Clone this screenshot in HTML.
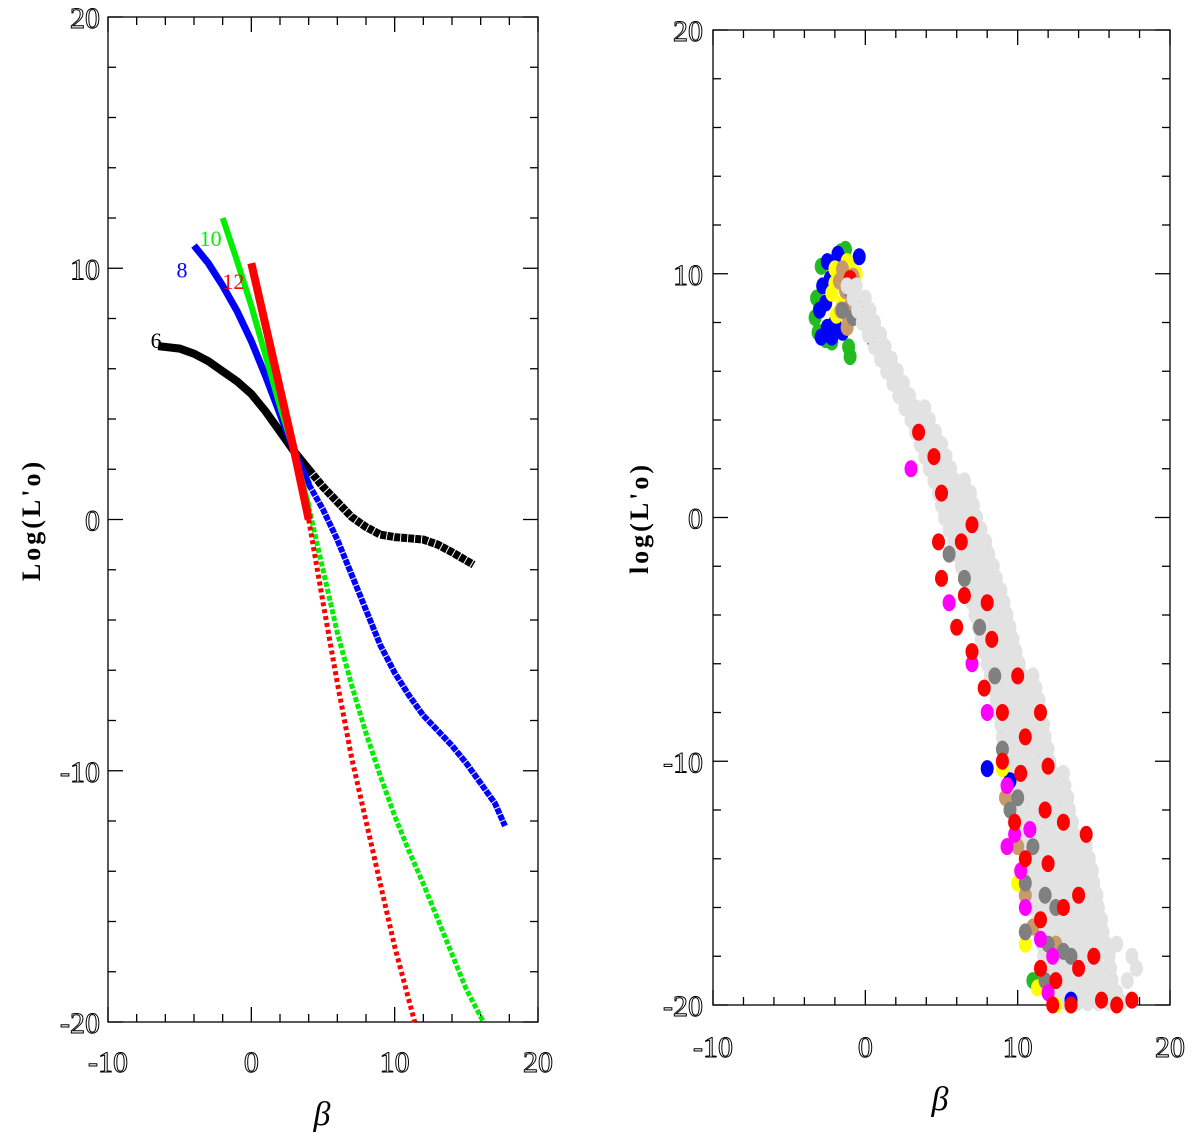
<!DOCTYPE html>
<html><head><meta charset="utf-8"><style>
html,body{margin:0;padding:0;background:#fff;}
svg{display:block;}
text{font-family:"Liberation Serif",serif;}
</style></head><body>
<svg id="fig" width="1200" height="1138" viewBox="0 0 1200 1138">
<g id="left"></g>
<g id="right"></g>
</svg>
<script>
// ---- Left panel data ----
const curve6 = [[-6.5,6.9],[-5,6.8],[-4,6.6],[-3,6.3],[-2,5.9],[-1,5.5],[0,5.0],[1,4.3],[2,3.5],[3,2.7],[4,2.0],[5,1.3],[6,0.7],[7,0.1],[8,-0.3],[9,-0.6],[10,-0.7],[11,-0.75],[12,-0.8],[13,-1.0],[14,-1.3],[15.5,-1.8]];
const curve8 = [[-4,10.9],[-3,10.2],[-2,9.3],[-1,8.3],[0,7.1],[1,5.7],[2,4.2],[3,2.7],[4,1.4],[5,0.4],[6,-0.8],[7,-2.2],[8,-3.6],[9,-5.0],[10,-6.1],[11,-7.0],[12,-7.8],[13,-8.4],[14,-9.0],[15,-9.7],[16,-10.5],[17,-11.3],[17.7,-12.2]];
const curve10 = [[-2,12],[-1,10.3],[0,8.5],[1,6.5],[2,4.5],[3,2.7],[4,0.5],[5,-2.0],[6,-4.5],[7,-6.6],[8,-8.5],[9,-10.2],[10,-11.8],[11,-13.2],[12,-14.5],[13,-15.9],[14,-17.3],[15,-18.7],[16.2,-20]];
const curve12 = [[0,10.2],[1,7.7],[2,5.2],[3,2.7],[4,0],[5,-3.3],[6,-6.5],[7,-9.5],[8,-12],[9,-14.5],[10,-17],[11.4,-20]];
const curveNames = ['6','8','10','12'];
const curveColors = ['#000','#0000ff','#00ee00','#ff0000'];
// ---- Right panel data (beta, log L'o) ----
const ptsGreen = [[-3.2,9],[-2.9,10.3],[-3.1,7.6],[-2.2,7.2],[-1.1,7],[-1,6.6],[-1.3,11],[-3.3,8.2],[-2.6,7.3],[-1.6,10.9],[-3,8.6],[11,-19]];
const ptsBlue = [[-2.5,10.5],[-2.8,9.5],[-3,8.5],[-2.5,7.8],[-2.2,7.4],[-2.9,7.4],[-1.5,7.6],[-1.8,10.8],[-0.4,10.7],[-2,8],[-2.3,9.8],[-2.6,8.8],[8,-10.3],[9.5,-10.8],[13.5,-19.8]];
const ptsYellow = [[-2,10.2],[-1.2,10.5],[-2.2,9.2],[-1.5,8.8],[-1,10.2],[-0.6,10],[-1.9,8.3],[-2,9.6],[9,-10.3],[10,-15],[10.5,-17.5],[12.5,-20],[11.3,-19.3]];
const ptsTan = [[-1.7,9.7],[-1.3,9.3],[-1.6,8.5],[-0.9,8.8],[-1.2,7.8],[-1.5,10.2],[-0.8,9.9],[-1.1,8.2],[9.2,-11.5],[10.5,-15.5],[11,-16.8],[12.5,-17.5],[10,-13.5]];
const ptsDarkGray = [[-1.5,8.5],[-0.8,8.2],[-1,9.3],[5.5,-1.5],[6.5,-2.5],[7.5,-4.5],[8.5,-6.5],[9,-9.5],[10,-11.5],[9.5,-12],[11,-13.5],[10.5,-15],[11.8,-15.5],[12,-17.5],[13,-17.8],[11.8,-19],[13.5,-18],[12.5,-16],[10.5,-17]];
const ptsMagenta = [[-0.8,9],[-0.4,8.7],[3,2],[5.5,-3.5],[7,-6],[8,-8],[9.3,-11],[9.8,-13],[9.3,-13.5],[10.8,-12.8],[10.5,-16],[11.5,-17.3],[12,-19.5],[12.3,-18],[10.2,-14.5]];
const ptsRed = [[-1,9.8],[0.5,7.3],[3.5,3.5],[5,1],[4.8,-1],[5,-2.5],[6.3,-1],[7,-0.3],[8,-3.5],[6,-4.5],[7,-5.5],[8.3,-5],[10,-6.5],[9,-8],[11.5,-8],[10.2,-10.5],[12,-10.2],[9.8,-12.5],[11.8,-12],[13,-12.5],[10.5,-14],[12,-14.2],[14.5,-13],[11.5,-16.5],[13,-16],[14,-15.5],[11.5,-18.5],[12.5,-19],[14,-18.5],[15,-18],[15.5,-19.8],[13.5,-20],[12.3,-20],[16.5,-20],[17.5,-19.8],[10.5,-9],[9,-10],[7.8,-7],[4.5,2.5],[6.5,-3.2]];
// light-gray band, rows of [logL, [beta values]]
const lightRows = [
 [9.5,[-1.2,-0.6]],[9,[-0.8,0]],[8.5,[-0.5,0.3]],[8,[-0.2,0.6]],[7.5,[0.2,1]],[7,[0.6,1.3]],[6.5,[1,1.7]],[6,[1.4,2.1]],[5.5,[1.8,2.5]],[5,[2.2,2.9]],
 [4.5,[2.6,3.3,3.9]],[4,[3,3.7,4.2]],[3.5,[3.3,4,4.6]],[3,[3.6,4.3,5]],[2.5,[3.9,4.6,5.3]],[2,[4.2,4.9,5.6]],[1.5,[4.5,5.2,5.9,6.5]],[1,[4.8,5.5,6.2,6.9]],
 [0.5,[5,5.7,6.4,7.1]],[0,[5.2,5.9,6.6,7.3]],[-0.5,[5.5,6.2,6.9,7.6]],[-1,[5.8,6.5,7.2,7.9]],[-1.5,[6,6.7,7.4,8.1]],[-2,[6.3,7,7.7,8.4]],[-2.5,[6.5,7.2,7.9,8.6]],
 [-3,[6.8,7.5,8.2,8.9]],[-3.5,[7,7.7,8.4,9.1]],[-4,[7.2,7.9,8.6,9.3]],[-4.5,[7.4,8.1,8.8,9.5]],[-5,[7.6,8.3,9,9.7]],[-5.5,[7.8,8.5,9.2,9.9]],[-6,[8,8.7,9.4,10.1]],
 [-6.5,[8.2,8.9,9.6,10.3,11]],[-7,[8.4,9.1,9.8,10.5,11.2]],[-7.5,[8.6,9.3,10,10.7,11.4]],[-8,[8.7,9.4,10.1,10.8,11.5]],[-8.5,[8.9,9.6,10.3,11,11.7]],[-9,[9,9.7,10.4,11.1,11.8]],
 [-9.5,[9.2,9.9,10.6,11.3,12]],[-10,[9.3,10,10.7,11.4,12.1]],[-10.5,[9.5,10.2,10.9,11.6,12.3,13]],[-11,[9.6,10.3,11,11.7,12.4,13.1]],[-11.5,[9.8,10.5,11.2,11.9,12.6,13.3]],
 [-12,[9.9,10.6,11.3,12,12.7,13.4]],[-12.5,[10.1,10.8,11.5,12.2,12.9,13.6]],[-13,[10.2,10.9,11.6,12.3,13,13.7]],[-13.5,[10.4,11.1,11.8,12.5,13.2,13.9,14.5]],
 [-14,[10.5,11.2,11.9,12.6,13.3,14,14.7]],[-14.5,[10.7,11.4,12.1,12.8,13.5,14.2,14.9]],[-15,[10.8,11.5,12.2,12.9,13.6,14.3,15]],[-15.5,[11,11.7,12.4,13.1,13.8,14.5,15.2]],
 [-16,[11.1,11.8,12.5,13.2,13.9,14.6,15.3]],[-16.5,[11.3,12,12.7,13.4,14.1,14.8,15.5]],[-17,[11.4,12.1,12.8,13.5,14.2,14.9,15.6]],[-17.5,[11.6,12.3,13,13.7,14.4,15.1,15.8,16.5]],
 [-18,[11.7,12.4,13.1,13.8,14.5,15.2,16,17.5]],[-18.5,[11.9,12.6,13.3,14,14.7,15.4,16.1,17.8]],[-19,[12,12.7,13.4,14.1,14.8,15.5,16.2,17.2]],[-19.5,[12.3,13,13.7,14.4,15.1,15.8,16.5]],
 [-19.9,[12.5,13.2,13.9,14.6,15.3,16,16.8]]
];
const tickLabels = ['-10','0','10','20'];
const yTickLabels = ['20','10','0','-10','-20'];

const NS='http://www.w3.org/2000/svg';
function mk(parent,tag,attrs){const e=document.createElementNS(NS,tag);for(const k in attrs)e.setAttribute(k,attrs[k]);parent.appendChild(e);return e;}

function drawAxes(g,P){
  const X=v=>P.x0+(v+10)*(P.x1-P.x0)/30, Y=v=>P.y1-(v+20)*(P.y1-P.y0)/40;
  const box=mk(g,'rect',{x:P.x0,y:P.y0,width:P.x1-P.x0,height:P.y1-P.y0,fill:'none',stroke:'#000','stroke-width':1.3});
  
  
  for(let v=-10;v<=20;v+=2){const L=(v%10===0)?15:8;
    const t1=mk(g,'line',{x1:X(v),x2:X(v),y1:P.y1,y2:P.y1-L,stroke:'#000','stroke-width':1.3});
    
    const t2=mk(g,'line',{x1:X(v),x2:X(v),y1:P.y0,y2:P.y0+L,stroke:'#000','stroke-width':1.3});
    }
  for(let v=-20;v<=20;v+=2){const L=(v%10===0)?15:8;
    const t1=mk(g,'line',{x1:P.x0,x2:P.x0+L,y1:Y(v),y2:Y(v),stroke:'#000','stroke-width':1.3});
    
    const t2=mk(g,'line',{x1:P.x1,x2:P.x1-L,y1:Y(v),y2:Y(v),stroke:'#000','stroke-width':1.3});
    }
  tickLabels.forEach((s,i)=>{const v=-10+i*10;
    const t=mk(g,'text',{x:X(v),y:P.xly,'text-anchor':'middle','font-size':30,fill:'#fff',stroke:'#000','stroke-width':1,'font-family':'Liberation Sans, sans-serif'});
    t.textContent=s;});
  yTickLabels.forEach((s,i)=>{const v=20-i*10;
    const t=mk(g,'text',{x:P.ylx,y:Y(v)+11,'text-anchor':'end','font-size':30,fill:'#fff',stroke:'#000','stroke-width':1,'font-family':'Liberation Sans, sans-serif'});
    t.textContent=s;});
  const xt=mk(g,'text',{x:P.xtx,y:P.xty,'text-anchor':'middle','font-size':34,'font-style':'italic'});
  xt.textContent='β';
  const yt=mk(g,'text',{x:0,y:0,'text-anchor':'middle','font-size':26,'font-weight':'bold',transform:`translate(${P.ytx},${P.yty}) rotate(-90)`,'letter-spacing':'3'});
  yt.textContent=P.ytitle;
  return {X,Y};
}

// Left panel
const gl=document.getElementById('left');
const L=drawAxes(gl,{x0:108,x1:538,y0:17,y1:1022,xly:1072,ylx:100,xtx:322,xty:1125,ytx:40,yty:520,ytitle:"Log(L'o)"});
const curves=[curve6,curve8,curve10,curve12];
const splitY=[2.0,1.4,0.5,-0.5];
const widths=[8,7,6,8];
const lowDash=['6 1','6 1','5 2','4 3'];
const lowW=[8,6,5,5];
curves.forEach((c,i)=>{
  const solid=c.filter(p=>p[1]>=splitY[i]);
  const toPts=a=>a.map(p=>L.X(p[0]).toFixed(1)+','+L.Y(p[1]).toFixed(1)).join(' ');
  const idx=c.findIndex(p=>p[1]<splitY[i]);
  const low=c.slice(Math.max(idx-1,0));
  const d=mk(gl,'polyline',{points:toPts(low),fill:'none',stroke:curveColors[i],'stroke-width':lowW[i],'stroke-dasharray':lowDash[i]});
  
  const s=mk(gl,'polyline',{points:toPts(solid),fill:'none',stroke:curveColors[i],'stroke-width':widths[i]});
  
  const t=mk(gl,'text',{x:L.X(c[0][0])-(i===3?18:i===0?2:12),y:L.Y(c[0][1])+(i===0?2:i===3?26:i===1?32:28),'font-size':22,fill:curveColors[i],'text-anchor':'middle','font-family':'Liberation Sans, sans-serif'});
  t.textContent=curveNames[i];
});

// Right panel
const gr=document.getElementById('right');
const R=drawAxes(gr,{x0:713,x1:1170,y0:30,y1:1005,xly:1057,ylx:703,xtx:940,xty:1110,ytx:648,yty:518,ytitle:"log(L'o)"});
function dot(p,col,nm){
  const e=mk(gr,'ellipse',{cx:R.X(p[0]).toFixed(1),cy:R.Y(p[1]).toFixed(1),rx:6.5,ry:8.5,fill:col});
  
  
}
// lower light-gray band first, then coloured groups, then upper light-gray band on top
lightRows.filter(r=>r[0]<5).forEach(([v,bs])=>bs.forEach(b=>dot([b,v],'#e2e2e2','light-gray')));
const groups=[[ptsGreen,'#22bb22','green'],[ptsBlue,'#0000ff','blue'],[ptsYellow,'#ffff00','yellow'],[ptsTan,'#c89a6a','tan'],[ptsDarkGray,'#808080','dark-gray'],[ptsMagenta,'#ff00ff','magenta'],[ptsRed,'#ff0000','red']];
groups.forEach(([arr,col,nm])=>arr.forEach(p=>dot(p,col,nm)));
lightRows.filter(r=>r[0]>=5).forEach(([v,bs])=>bs.forEach(b=>dot([b,v],'#e2e2e2','light-gray')));
</script>
</body></html>
